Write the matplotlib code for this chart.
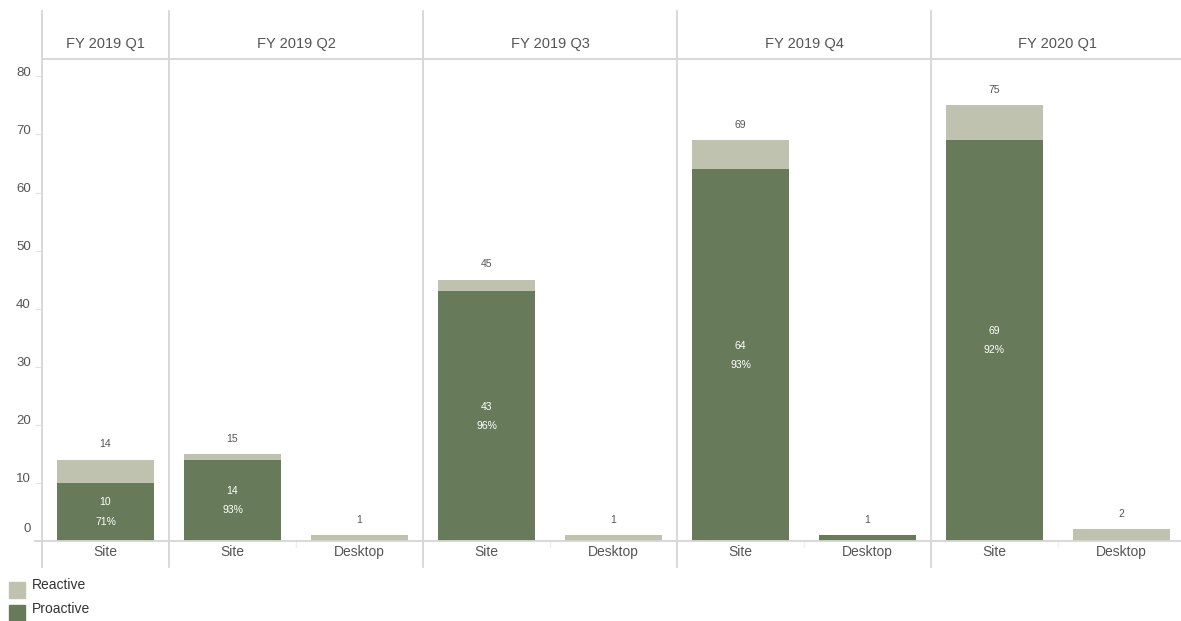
import matplotlib
matplotlib.use("Agg")
import matplotlib.pyplot as plt
from matplotlib.lines import Line2D
from matplotlib.patches import Rectangle
from matplotlib.transforms import ScaledTranslation

plt.rcParams['font.family'] = ['Liberation Sans', 'DejaVu Sans']

# ---- data ----
quarters = ['FY 2019 Q1', 'FY 2019 Q2', 'FY 2019 Q3', 'FY 2019 Q4', 'FY 2020 Q1']
channels = [['Site'], ['Site', 'Desktop'], ['Site', 'Desktop'],
            ['Site', 'Desktop'], ['Site', 'Desktop']]
proactive = [[10], [14, 0], [43, 0], [64, 1], [69, 0]]
reactive = [[4], [1, 1], [2, 1], [5, 0], [6, 2]]
y_ticks = [0, 10, 20, 30, 40, 50, 60, 70, 80]

C_PRO = '#677b5a'
C_REA = '#bec2ae'
C_TXT = '#555555'
C_LINE = '#d6d6d6'

W, H = 1181, 621
fig = plt.figure(figsize=(W / 100, H / 100), dpi=100)


def fx(px):
    return px / W


def fy(py):
    return 1 - py / H


gs = fig.add_gridspec(1, 5, left=fx(42), right=fx(1185), top=fy(59), bottom=fy(541),
                      width_ratios=[len(c) for c in channels], wspace=0)

ymax = 83
axes = []
for i, q in enumerate(quarters):
    ax = fig.add_subplot(gs[0, i])
    axes.append(ax)
    n = len(channels[i])
    xs = list(range(n))
    pro = proactive[i]
    rea = reactive[i]
    ax.bar(xs, pro, width=0.76, color=C_PRO, zorder=2)
    ax.bar(xs, rea, width=0.76, bottom=pro, color=C_REA, zorder=2)
    for x, p, r in zip(xs, pro, rea):
        total = p + r
        ax.annotate(f'{total}', (x, total), xytext=(0, 11), textcoords='offset points',
                    ha='center', va='center', fontsize=7.5, color=C_TXT)
        if p >= 5:
            ax.text(x, p / 2, f'{p}\n\n{round(p / total * 100)}%', ha='center', va='center',
                    fontsize=7.5, color='white', linespacing=0.95)
    ax.set_xlim(-0.5, n - 0.5)
    ax.set_ylim(0, ymax)
    ax.set_xticks(xs)
    ax.set_xticklabels(channels[i], fontsize=10, color=C_TXT)
    ax.tick_params(axis='x', length=0, pad=3)
    for s in ax.spines.values():
        s.set_visible(False)
    if i == 0:
        ax.set_yticks(y_ticks)
        ax.set_yticklabels([str(t) for t in y_ticks], fontsize=9.5, color=C_TXT)
        ax.tick_params(axis='y', length=5, width=0.8, color='#e2e2e2', pad=3)
        for t, lab in zip(y_ticks, ax.get_yticklabels()):
            dy = 13 if t == 0 else 5
            lab.set_transform(lab.get_transform() +
                              ScaledTranslation(0, dy / 100, fig.dpi_scale_trans))
    else:
        ax.set_yticks([])
    # faint divider between channel columns in the label strip
    for b in range(1, n):
        ax.plot([b - 0.5, b - 0.5], [0, -1.0], color='#efefef', lw=1, clip_on=False)
    # panel header
    bb = ax.get_position()
    fig.text((bb.x0 + min(bb.x1, 1.0)) / 2 if i < 4 else (bb.x0 + bb.x1) / 2, fy(44), q,
             ha='center', va='center', fontsize=10.5, color=C_TXT)

# panel separators and header rule
for i, ax in enumerate(axes):
    bb = ax.get_position()
    fig.add_artist(Line2D([bb.x0, bb.x0], [fy(11), fy(567)], color=C_LINE, lw=1.3,
                          transform=fig.transFigure))
fig.add_artist(Line2D([fx(42), 1], [fy(59), fy(59)], color=C_LINE, lw=1.3,
                      transform=fig.transFigure))
fig.add_artist(Line2D([fx(35), 1], [fy(541), fy(541)], color=C_LINE, lw=1.3,
                      transform=fig.transFigure, zorder=5))

# legend
for (label, col, top, ty) in [('Reactive', C_REA, 582, 585), ('Proactive', C_PRO, 605, 609)]:
    fig.add_artist(Rectangle((fx(9), fy(top + 16)), 16 / W, 16 / H, color=col,
                             transform=fig.transFigure))
    fig.text(fx(32), fy(ty), label, ha='left', va='center', fontsize=10, color='#333333')

fig.savefig('out.png', dpi=100)
